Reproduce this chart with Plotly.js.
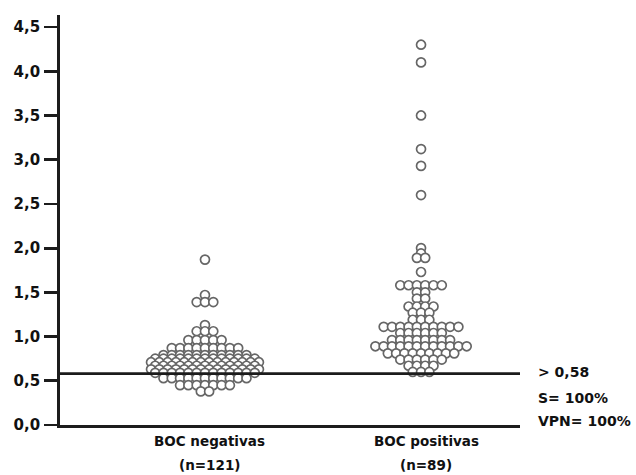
<!DOCTYPE html>
<html>
<head>
<meta charset="utf-8">
<script src="https://cdn.plot.ly/plotly-3.0.1.min.js"></script>
<style>html,body{margin:0;padding:0;background:#fff;}#chart{width:636px;height:475px;}</style>
</head>
<body>
<div id="chart"></div>
<script>
// ---- data ----
const categories = ["BOC negativas", "BOC positivas"];
const nLabels = ["(n=121)", "(n=89)"];
const negValues = [
  1.87,
  1.47,
  1.39, 1.39, 1.39,
  1.13,
  1.06, 1.06, 1.06,
  0.96, 0.96, 0.96, 0.96, 0.96,
  0.87, 0.87, 0.87, 0.87, 0.87, 0.87, 0.87, 0.87, 0.87,
  0.79, 0.79, 0.79, 0.79, 0.79, 0.79, 0.79, 0.79, 0.79, 0.79, 0.79,
  0.75, 0.75, 0.75, 0.75, 0.75, 0.75, 0.75, 0.75, 0.75, 0.75, 0.75, 0.75, 0.75,
  0.71, 0.71, 0.71, 0.71, 0.71, 0.71, 0.71, 0.71, 0.71, 0.71, 0.71, 0.71, 0.71, 0.71,
  0.67, 0.67, 0.67, 0.67, 0.67, 0.67, 0.67, 0.67, 0.67, 0.67, 0.67, 0.67, 0.67,
  0.63, 0.63, 0.63, 0.63, 0.63, 0.63, 0.63, 0.63, 0.63, 0.63, 0.63, 0.63, 0.63, 0.63,
  0.59, 0.59, 0.59, 0.59, 0.59, 0.59, 0.59, 0.59, 0.59, 0.59, 0.59, 0.59, 0.59,
  0.53, 0.53, 0.53, 0.53, 0.53, 0.53, 0.53, 0.53, 0.53, 0.53, 0.53,
  0.45, 0.45, 0.45, 0.45, 0.45, 0.45, 0.45,
  0.38, 0.38
];
const posValues = [
  4.30, 4.10, 3.50, 3.12, 2.93, 2.60, 2.00,
  1.94, 1.89, 1.89,
  1.73,
  1.58, 1.58, 1.58, 1.58, 1.58, 1.58,
  1.50, 1.50,
  1.43, 1.43,
  1.34, 1.34, 1.34, 1.34,
  1.27, 1.27, 1.27,
  1.19, 1.19, 1.19,
  1.11, 1.11, 1.11, 1.11, 1.11, 1.11, 1.11, 1.11, 1.11, 1.11,
  1.04, 1.04, 1.04, 1.04, 1.04, 1.04,
  0.96, 0.96, 0.96, 0.96, 0.96, 0.96, 0.96, 0.96,
  0.89, 0.89, 0.89, 0.89, 0.89, 0.89, 0.89, 0.89, 0.89, 0.89, 0.89, 0.89,
  0.81, 0.81, 0.81, 0.81, 0.81, 0.81, 0.81, 0.81, 0.81,
  0.74, 0.74, 0.74, 0.74, 0.74, 0.74,
  0.67, 0.67, 0.67, 0.67,
  0.60, 0.60, 0.60
];
const cutoff = 0.58;
const yTickVals = [0, 0.5, 1, 1.5, 2, 2.5, 3, 3.5, 4, 4.5];
const yTickText = ["0,0", "0,5", "1,0", "1,5", "2,0", "2,5", "3,0", "3,5", "4,0", "4,5"];
const sideNotes = ["> 0,58", "S= 100%", "VPN= 100%"];

// ---- layout geometry ----
const W = 636, H = 475;
const margin = {l: 60, r: 116, t: 15, b: 50, pad: 0};
const xRange = [-0.671, 1.458];
const yRange = [0, 4.636];
const plotW = W - margin.l - margin.r;
const pxPerX = plotW / (xRange[1] - xRange[0]);
const dotSpacingPx = 8.3;
const dx = dotSpacingPx / pxPerX;

// row-style scatter (equal values laid side by side)
function swarm(values, center) {
  const groups = new Map();
  values.forEach(v => {
    const k = v.toFixed(2);
    if (!groups.has(k)) groups.set(k, []);
    groups.get(k).push(v);
  });
  const xs = [], ys = [];
  groups.forEach(arr => {
    const n = arr.length;
    arr.forEach((v, i) => {
      xs.push(center + (i - (n - 1) / 2) * dx);
      ys.push(v);
    });
  });
  return {xs, ys};
}

const font = "DejaVu Sans, sans-serif";
const ink = "#111111";
const groupsData = [negValues, posValues];
const traces = groupsData.map((vals, i) => {
  const s = swarm(vals, i);
  return {
    type: "scatter", mode: "markers",
    x: s.xs, y: s.ys,
    marker: {symbol: "circle", size: 9, color: "#ffffff",
             line: {color: "#666666", width: 1.7}},
    hoverinfo: "y", showlegend: false
  };
});

const annotations = [];
categories.forEach((c, i) => {
  annotations.push({xref: "x", yref: "paper", x: i, y: 0, xanchor: "center", yanchor: "middle",
    yshift: -16, xshift: 5, text: "<b>" + c + "</b>", showarrow: false,
    font: {family: font, size: 13.5, color: ink}});
  annotations.push({xref: "x", yref: "paper", x: i, y: 0, xanchor: "center", yanchor: "middle",
    yshift: -40, xshift: 5, text: "<b>" + nLabels[i] + "</b>", showarrow: false,
    font: {family: font, size: 13.5, color: ink}});
});
const noteShifts = [2, -24, -47];
sideNotes.forEach((t, i) => {
  annotations.push({xref: "paper", yref: "y", x: 1, y: cutoff, xanchor: "left", yanchor: "middle",
    xshift: 16, yshift: noteShifts[i], text: "<b>" + t + "</b>", showarrow: false,
    font: {family: font, size: 14, color: ink}});
});

const layout = {
  width: W, height: H, margin: margin,
  paper_bgcolor: "#ffffff", plot_bgcolor: "#ffffff",
  font: {family: font, color: ink},
  xaxis: {range: xRange, showgrid: false, zeroline: false, showline: true,
          linewidth: 2.8, linecolor: "#1c1c1c", ticks: "", showticklabels: false, fixedrange: true},
  yaxis: {range: yRange, showgrid: false, zeroline: false, showline: true,
          linewidth: 2.8, linecolor: "#1c1c1c", ticks: "outside", ticklen: 13, tickwidth: 2.8,
          tickcolor: "#1c1c1c", tickvals: yTickVals,
          ticktext: yTickText.map(t => "<b>" + t + "</b>"),
          tickfont: {family: font, size: 15, color: ink}, ticklabelstandoff: 1, fixedrange: true},
  shapes: [{type: "line", xref: "paper", yref: "y", x0: 0, x1: 1, y0: cutoff, y1: cutoff,
            line: {color: "#1c1c1c", width: 2.8}, layer: "above"}],
  annotations: annotations
};

Plotly.newPlot("chart", traces, layout, {displayModeBar: false, staticPlot: true});
</script>
</body>
</html>
